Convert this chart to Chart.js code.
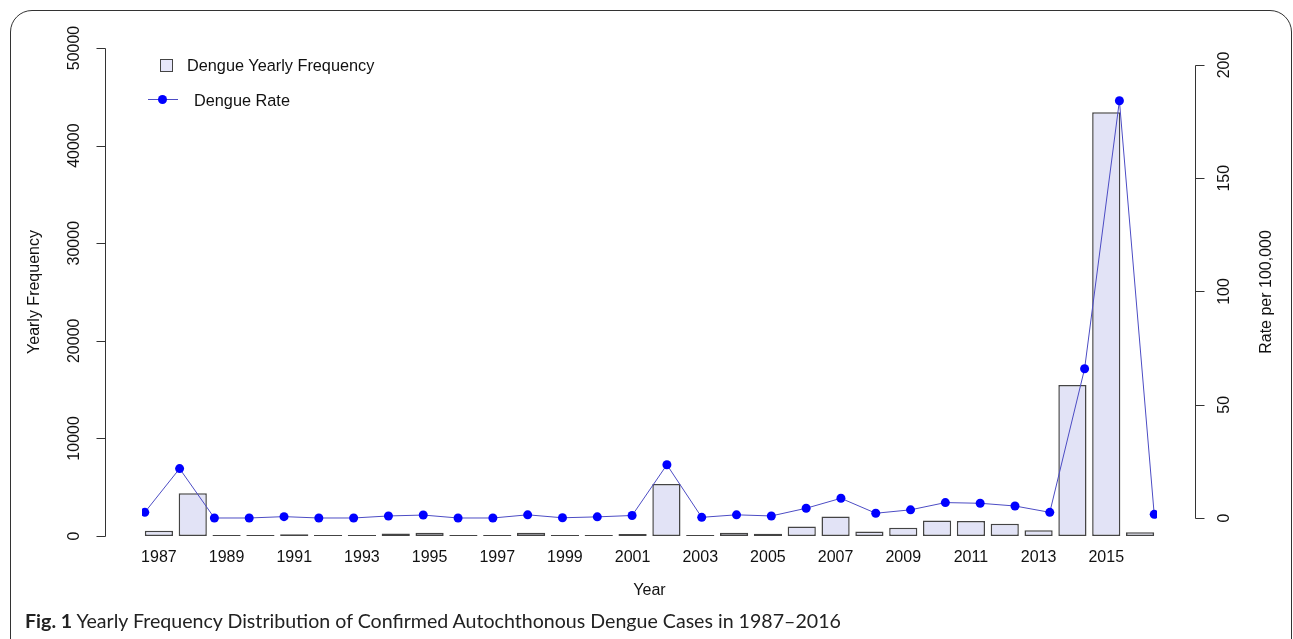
<!DOCTYPE html>
<html>
<head>
<meta charset="utf-8">
<script src="https://cdn.jsdelivr.net/npm/chart.js@4.4.1/dist/chart.umd.min.js"></script>
<style>
  html, body { margin: 0; padding: 0; background: #fff; }
  #page { position: relative; width: 1293px; height: 639px; overflow: hidden; font-family: "Liberation Sans", Arial, sans-serif; color: #111; }
  #frame { position: absolute; left: 10px; top: 10px; width: 1280px; height: 700px; border: 1.5px solid #333; border-radius: 22px; }
  #plot { position: absolute; left: 0; top: 0; width: 1293px; height: 639px; }
  .lg { position: absolute; font-size: 16.3px; line-height: 18px; white-space: nowrap; }
  #lgBox { position: absolute; left: 160px; top: 59px; width: 11px; height: 11px; background: #e6e6fa; border: 1px solid #444; }
  #lgLine { position: absolute; left: 148px; top: 99px; width: 30px; height: 1px; background: #4c4cc4; }
  #lgDot { position: absolute; left: 158px; top: 95px; width: 9px; height: 9px; border-radius: 50%; background: #0000ff; }
  #caption { position: absolute; left: 25px; top: 610px; font-family: Lato, "Noto Sans", sans-serif; font-size: 19.6px; line-height: 22px; color: #222; white-space: nowrap; }
  #caption b { font-weight: bold; }
</style>
</head>
<body>
<div id="page">
  <div id="frame"></div>
  <div id="plot"><canvas id="dengue"></canvas></div>
  <div id="lgBox"></div>
  <div class="lg" style="left:187px; top:56px;">Dengue Yearly Frequency</div>
  <div id="lgLine"></div>
  <div id="lgDot"></div>
  <div class="lg" style="left:194px; top:91px;">Dengue Rate</div>
  <div id="caption"><b>Fig. 1</b> Yearly Frequency Distribution of Confirmed Autochthonous Dengue Cases in 1987–2016</div>
</div>

<script>
// data
const years = ['1987', '1988', '1989', '1990', '1991', '1992', '1993', '1994', '1995', '1996',
               '1997', '1998', '1999', '2000', '2001', '2002', '2003', '2004', '2005', '2006',
               '2007', '2008', '2009', '2010', '2011', '2012', '2013', '2014', '2015', '2016'];
const frequency = [527, 4389, 0, 0, 175, 0, 0, 244, 322, 0,
                   0, 344, 0, 100, 200, 5336, 86, 336, 220, 965,
                   2000, 470, 837, 1600, 1545, 1260, 596, 15470, 43420, 380];
const rate = [2.5, 21.8, 0, 0, 0.6, 0, 0, 0.9, 1.3, 0,
              0, 1.4, 0.1, 0.5, 1.1, 23.5, 0.3, 1.4, 0.9, 4.3,
              8.7, 2.1, 3.6, 6.8, 6.5, 5.3, 2.5, 65.9, 184.2, 1.6];
const freqTicks = [0, 10000, 20000, 30000, 40000, 50000];
const rateTicks = [0, 50, 100, 150, 200];

const FONT = '16px "Liberation Sans", Arial, sans-serif';

// R-style axes: line only between first and last tick, labels turned sideways
function drawAxis(ctx, scale, ticks, x, len, labelX) {
  const top = Math.round(scale.getPixelForValue(ticks[ticks.length - 1])) + 0.5;
  const bot = Math.round(scale.getPixelForValue(ticks[0])) + 0.5;
  ctx.beginPath();
  ctx.moveTo(x + 0.5, top);
  ctx.lineTo(x + 0.5, bot);
  ticks.forEach(t => {
    const y = Math.round(scale.getPixelForValue(t)) + 0.5;
    ctx.moveTo(x + 0.5, y);
    ctx.lineTo(x + 0.5 + len, y);
  });
  ctx.stroke();
  ticks.forEach(t => {
    const y = scale.getPixelForValue(t);
    ctx.save();
    ctx.translate(labelX, y);
    ctx.rotate(-Math.PI / 2);
    ctx.fillText(String(t), 0, 0);
    ctx.restore();
  });
}

function sideTitle(ctx, text, x, y) {
  ctx.save();
  ctx.translate(x, y);
  ctx.rotate(-Math.PI / 2);
  ctx.fillText(text, 0, 0);
  ctx.restore();
}

const rAxes = {
  id: 'rAxes',
  afterDraw(chart) {
    const { ctx, chartArea: a, scales } = chart;
    ctx.save();
    ctx.strokeStyle = '#333';
    ctx.lineWidth = 1;
    ctx.fillStyle = '#111';
    ctx.font = FONT;
    ctx.textAlign = 'center';
    ctx.textBaseline = 'middle';
    drawAxis(ctx, scales.y, freqTicks, a.left - 37, -9, a.left - 67);
    drawAxis(ctx, scales.y1, rateTicks, a.right + 38, 9, a.right + 68);
    const mid = (a.top + a.bottom) / 2;
    sideTitle(ctx, 'Yearly Frequency', a.left - 107, mid);
    sideTitle(ctx, 'Rate per 100,000', a.right + 110, mid);
    ctx.restore();
  }
};

new Chart(document.getElementById('dengue'), {
  type: 'bar',
  data: {
    labels: years,
    datasets: [
      {
        type: 'line',
        label: 'Dengue Rate',
        data: rate.map((v, i) => ({ x: i, y: v })),
        xAxisID: 'x2',
        yAxisID: 'y1',
        borderColor: '#4c4cc4',
        borderWidth: 1,
        pointRadius: 4.5,
        pointBackgroundColor: '#0000ff',
        pointBorderColor: '#0000ff',
        pointBorderWidth: 0,
        tension: 0,
        order: 0
      },
      {
        type: 'bar',
        label: 'Dengue Yearly Frequency',
        data: frequency,
        xAxisID: 'x',
        yAxisID: 'y',
        backgroundColor: '#e2e3f6',
        borderColor: '#444',
        borderWidth: 1.5,
        borderSkipped: false,
        minBarLength: 1,
        grouped: false,
        categoryPercentage: 1,
        barPercentage: 0.833,
        order: 1
      }
    ]
  },
  options: {
    responsive: true,
    maintainAspectRatio: false,
    animation: false,
    layout: { padding: { top: 48, left: 0, right: 0, bottom: 0 } },
    plugins: { legend: { display: false }, tooltip: { enabled: false } },
    scales: {
      x: {
        type: 'category',
        offset: true,
        grid: { display: false, drawTicks: false },
        border: { display: false },
        ticks: {
          autoSkip: false,
          maxRotation: 0,
          padding: 12,
          color: '#111',
          font: { family: '"Liberation Sans", Arial, sans-serif', size: 16 },
          callback: function (v, i) { return i % 2 === 0 ? this.getLabelForValue(v) : ''; }
        },
        title: {
          display: true,
          text: 'Year',
          color: '#111',
          font: { family: '"Liberation Sans", Arial, sans-serif', size: 16 },
          padding: { top: 0, bottom: 39 }
        },
        afterFit: s => { s.height = 103; }
      },
      x2: {
        type: 'linear',
        display: false,
        offset: false,
        grid: { offset: false },
        bounds: 'data',
        min: -0.08,
        max: 29.08
      },
      y: {
        type: 'linear',
        position: 'left',
        min: 0,
        max: 50000,
        grid: { display: false, drawTicks: false },
        border: { display: false },
        ticks: { display: false },
        afterFit: s => { s.width = 142; }
      },
      y1: {
        type: 'linear',
        position: 'right',
        min: -7.95,
        max: 207.5,
        grid: { display: false, drawTicks: false },
        border: { display: false },
        ticks: { display: false },
        afterFit: s => { s.width = 136; }
      }
    }
  },
  plugins: [rAxes]
});
</script>
</body>
</html>
